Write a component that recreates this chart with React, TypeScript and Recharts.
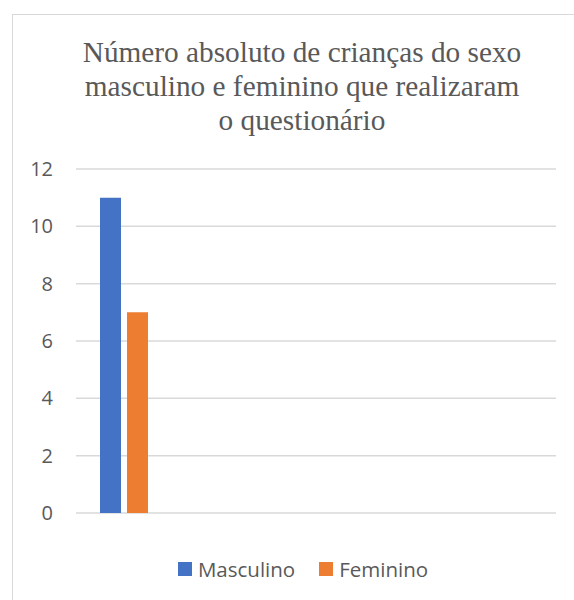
import { Bar, BarChart, CartesianGrid, Legend, XAxis, YAxis } from "recharts";

const categories = ["", "", "", "", ""];
const masculino = [11, null, null, null, null];
const feminino = [7, null, null, null, null];
const yTicks = [0, 2, 4, 6, 8, 10, 12];

const seriesDefs = [
  { key: "Masculino", color: "#4472C4" },
  { key: "Feminino", color: "#ED7D31" },
];

const data = categories.map((c, i) => ({ name: c, Masculino: masculino[i], Feminino: feminino[i] }));

const textColor = "#595959";
const sans = "'Open Sans', sans-serif";
const serif = "'Times New Roman', 'Liberation Serif', Times, serif";

function LegendBox() {
  return (
    <div style={{ display: "flex", justifyContent: "center", alignItems: "center", fontFamily: sans, fontSize: 20.5, color: textColor }}>
      {seriesDefs.map((s, i) => (
        <div key={s.key} style={{ display: "flex", alignItems: "center", marginLeft: i ? 24 : 0 }}>
          <span style={{ width: 14, height: 14, background: s.color, display: "inline-block", marginRight: 6 }} />
          <span>{s.key}</span>
        </div>
      ))}
    </div>
  );
}

export default function App() {
  return (
    <div style={{ position: "absolute", left: 0, top: 0, width: 574, height: 600, background: "#fff", overflow: "hidden" }}>
      <div
        style={{
          position: "absolute",
          left: 12,
          top: 14,
          width: 580,
          height: 600,
          border: "1px solid #d9d9d9",
          boxSizing: "border-box",
        }}
      />
      <svg width={574} height={150} style={{ position: "absolute", left: 0, top: 0 }}>
        <text x={302} textAnchor="middle" fontFamily={serif} fontSize={29.3} fill={textColor}>
          <tspan x={302} y={62}>Número absoluto de crianças do sexo</tspan>
          <tspan x={302} y={96}>masculino e feminino que realizaram</tspan>
          <tspan x={302} y={130}>o questionário</tspan>
        </text>
      </svg>
      <div style={{ position: "absolute", left: 0, top: 0 }}>
        <BarChart
          width={574}
          height={600}
          data={data}
          margin={{ top: 169, right: 18, bottom: 61, left: 0 }}
          barCategoryGap={24}
          barGap={6}
        >
          <CartesianGrid horizontal vertical={false} stroke="#d9d9d9" strokeWidth={1.5} />
          <XAxis dataKey="name" hide />
          <YAxis
            domain={[0, 12]}
            ticks={yTicks}
            width={76}
            axisLine={false}
            tickLine={false}
            tickSize={0}
            tickMargin={23}
            tick={{ fontFamily: sans, fontSize: 20, fill: textColor }}
          />
          {seriesDefs.map((s) => (
            <Bar key={s.key} dataKey={s.key} fill={s.color} isAnimationActive={false} />
          ))}
          <Legend
            content={() => <LegendBox />}
            wrapperStyle={{ position: "absolute", left: 0, top: 555, width: 606, height: 26 }}
          />
        </BarChart>
      </div>
    </div>
  );
}
